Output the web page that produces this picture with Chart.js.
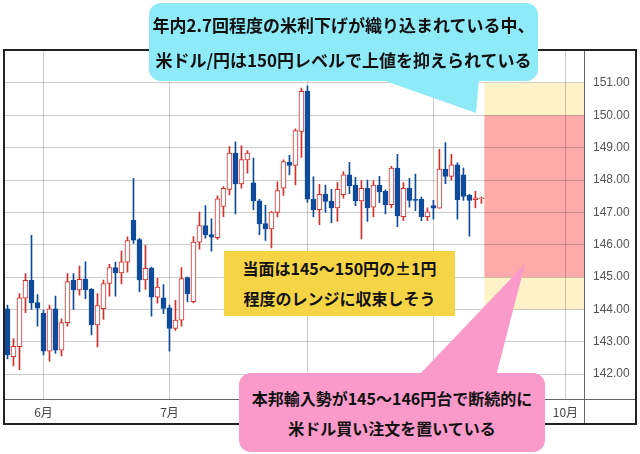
<!DOCTYPE html>
<html>
<head>
<meta charset="utf-8">
<script src="https://cdn.jsdelivr.net/npm/chart.js@4.4.1/dist/chart.umd.min.js"></script>
<style>
    body { margin: 0; background: #fff; }
    #wrap { position: relative; width: 640px; height: 454px; overflow: hidden; }
    #myChart { position: absolute; left: 0; top: 0; }
    .note {
        position: absolute;
        box-sizing: border-box;
        font-family: "Noto Sans CJK JP", sans-serif;
        font-weight: bold;
        color: #111;
        text-align: center;
        white-space: nowrap;
    }
    .tail { position: absolute; left: 0; top: 0; width: 640px; height: 454px; }
</style>
</head>
<body>
<div id="wrap">
    <canvas id="myChart" width="640" height="454"></canvas>

    <!-- callouts laid over the chart -->
    <div class="tail" style="background:#8FEAF8; clip-path: polygon(377px 78px, 479px 78px, 476px 113px);"></div>
    <div class="note" style="left:149px; top:3px; width:389px; height:78px; padding-top:4px; background:#8FEAF8; border-radius:12px; font-size:17px; line-height:35px;">年内2.7回程度の米利下げが織り込まれている中、<br>米ドル/円は150円レベルで上値を抑えられている</div>

    <div class="note" style="left:224px; top:251px; width:231px; height:65px; padding-top:2px; background:#F5D446; font-size:16px; line-height:30px;">当面は145～150円の±1円<br>程度のレンジに収束しそう</div>

    <div class="tail" style="background:#F99ACA; clip-path: polygon(418px 376px, 525px 264px, 496px 376px);"></div>
    <div class="note" style="left:239px; top:373px; width:306px; height:79px; padding-top:10px; background:#F99ACA; border-radius:12px; font-size:16px; line-height:30px;">本邦輸入勢が145～146円台で断続的に<br>米ドル買い注文を置いている</div>
</div>

<script>
// Trading days shown on the axis (last ones are empty room on the right)
var dates = [
    "5/23", "5/26", "5/27", "5/28", "5/29", "5/30",
    "6/2", "6/3", "6/4", "6/5", "6/6", "6/9", "6/10", "6/11", "6/12", "6/13",
    "6/16", "6/17", "6/18", "6/19", "6/20", "6/23", "6/24", "6/25", "6/26", "6/27", "6/30",
    "7/1", "7/2", "7/3", "7/4", "7/7", "7/8", "7/9", "7/10", "7/11", "7/14", "7/15",
    "7/16", "7/17", "7/18", "7/21", "7/22", "7/23", "7/24", "7/25", "7/28", "7/29", "7/30", "7/31",
    "8/1", "8/4", "8/5", "8/6", "8/7", "8/8", "8/11", "8/12", "8/13", "8/14", "8/15",
    "8/18", "8/19", "8/20", "8/21", "8/22", "8/25", "8/26", "8/27", "8/28", "8/29",
    "9/1", "9/2", "9/3", "9/4", "9/5", "9/8", "9/9", "9/10", "9/11", "9/12", "9/15",
    "9/16", "9/17", "9/18", "9/19", "9/22", "9/23", "9/24", "9/25", "9/26", "9/29", "9/30",
    "10/1", "10/2", "10/3", "10/6"
];

// USD/JPY daily candles
var openPrices = [
    144.02, 142.54, 142.85, 144.35, 144.90, 144.21, 143.88, 142.71, 144.02, 142.74,
    143.59, 144.90, 144.60, 144.93, 144.62, 143.52, 144.02, 144.80, 145.29, 145.13,
    145.46, 146.75, 146.16, 144.91, 145.28, 144.38, 144.36, 144.05, 143.41, 143.67,
    144.98, 144.24, 146.08, 146.59, 146.31, 146.22, 147.18, 147.71, 148.83, 147.88,
    148.62, 147.91, 147.36, 146.65, 146.49, 147.00, 147.75, 148.55, 148.45, 149.50,
    150.75, 147.40, 147.08, 147.56, 147.34, 147.14, 147.55, 148.16, 147.84, 147.35,
    147.74, 147.16, 147.84, 147.65, 147.24, 148.37, 146.87, 147.74, 147.40, 147.40,
    146.87, 147.21, 147.13, 148.34, 148.11, 148.47, 148.16, 147.53, 147.39, 147.42
];
var highPrices = [
    144.13, 143.10, 144.49, 145.11, 146.29, 144.46, 143.97, 144.13, 144.41, 143.71,
    145.11, 145.11, 145.34, 145.47, 144.64, 144.49, 144.91, 145.39, 145.46, 145.80,
    146.24, 148.05, 146.20, 145.98, 145.31, 144.96, 144.77, 144.13, 144.28, 145.29,
    145.01, 146.25, 147.01, 147.21, 146.80, 147.51, 147.80, 149.03, 149.18, 149.06,
    148.91, 148.68, 147.40, 147.22, 147.03, 147.94, 148.62, 148.76, 149.58, 150.84,
    150.91, 148.10, 147.87, 147.84, 147.71, 147.92, 148.26, 148.55, 148.08, 147.98,
    148.00, 147.98, 148.11, 147.70, 148.42, 148.79, 147.92, 148.05, 148.18, 147.47,
    147.14, 147.37, 148.95, 149.16, 148.79, 148.53, 148.37, 147.56, 147.65, 147.47
];
var lowPrices = [
    142.47, 142.25, 142.14, 143.90, 144.00, 143.48, 142.59, 142.40, 142.64, 142.56,
    143.48, 144.00, 144.44, 144.33, 143.21, 142.84, 143.69, 144.41, 144.41, 144.79,
    145.15, 146.04, 144.54, 144.62, 143.79, 144.19, 143.87, 142.71, 143.35, 143.48,
    144.23, 144.20, 145.86, 146.20, 145.80, 146.16, 146.87, 147.54, 146.95, 147.75,
    148.21, 147.08, 146.31, 146.13, 145.90, 146.86, 147.52, 148.16, 147.85, 148.70,
    147.31, 146.87, 146.62, 147.00, 146.68, 146.72, 147.44, 147.58, 147.21, 146.18,
    146.72, 146.86, 147.30, 146.95, 147.14, 146.56, 146.74, 147.16, 147.05, 146.74,
    146.74, 146.79, 147.13, 147.89, 148.00, 146.79, 147.37, 146.26, 147.14, 147.28
];
var closePrices = [
    142.59, 142.86, 144.36, 144.90, 144.20, 144.04, 142.71, 144.02, 142.74, 143.59,
    144.86, 144.60, 144.93, 144.60, 143.52, 144.12, 144.80, 145.29, 145.13, 145.47,
    146.13, 146.14, 144.91, 145.27, 144.38, 144.69, 144.03, 143.41, 143.67, 144.95,
    144.49, 146.08, 146.59, 146.30, 146.23, 147.42, 147.74, 148.83, 147.88, 148.63,
    148.83, 147.36, 146.64, 146.49, 147.01, 147.67, 148.57, 148.45, 149.53, 150.74,
    147.41, 147.08, 147.56, 147.34, 147.14, 147.71, 148.16, 147.82, 147.35, 147.74,
    147.14, 147.84, 147.63, 147.24, 148.37, 146.89, 147.74, 147.37, 147.37, 146.87,
    147.02, 147.13, 148.34, 148.11, 148.47, 147.39, 147.49, 147.37, 147.45, 147.45
];

var yTicks = [142, 143, 144, 145, 146, 147, 148, 149, 150, 151];
var rangeOuter = [144, 151];   // light band: 145-150 +/- 1
var rangeInner = [145, 150];   // main band

var upColor = "#D42F2B";
var downColor = "#0E4B9B";

// Month ticks: first trading day of each month
var monthTicks = {};
for (var i = 1; i < dates.length; i++) {
    var m = dates[i].split("/")[0];
    if (m != dates[i - 1].split("/")[0])
        monthTicks[i] = m + "月";
}

var bodyData = [], wickData = [];
var bodyFill = [], bodyLine = [], wickColor = [];
for (var i = 0; i < openPrices.length; i++) {
    var up = closePrices[i] >= openPrices[i];
    bodyData.push({ x: i, y: [openPrices[i], closePrices[i]] });
    wickData.push({ x: i, y: [lowPrices[i], highPrices[i]] });
    bodyFill.push(up ? "#ffffff" : downColor);
    bodyLine.push(up ? upColor : downColor);
    wickColor.push(up ? upColor : downColor);
}

// Range bands go behind the grid, right of the last candle
var bandsPlugin = {
    id: "bands",
    beforeDraw: function(chart) {
        var ctx = chart.ctx, x = chart.scales.x, y = chart.scales.y;
        var left = x.getPixelForValue(openPrices.length - 0.5);
        var right = chart.chartArea.right;
        ctx.save();
        ctx.fillStyle = "#FFF2C8";
        var t = y.getPixelForValue(rangeOuter[1]), b = y.getPixelForValue(rangeOuter[0]);
        ctx.fillRect(left, t, right - left, b - t);
        ctx.fillStyle = "#FFAAAA";
        t = y.getPixelForValue(rangeInner[1]);
        b = y.getPixelForValue(rangeInner[0]);
        ctx.fillRect(left, t, right - left, b - t);
        ctx.restore();
    }
};

// Outer box and the axis separators
var framePlugin = {
    id: "frame",
    afterDraw: function(chart) {
        var ctx = chart.ctx, a = chart.chartArea;
        ctx.save();
        ctx.strokeStyle = "#666";
        ctx.lineWidth = 1;
        ctx.beginPath();
        ctx.moveTo(3, Math.round(a.bottom) + 0.5);
        ctx.lineTo(637, Math.round(a.bottom) + 0.5);
        ctx.moveTo(Math.round(a.right) + 0.5, 49);
        ctx.lineTo(Math.round(a.right) + 0.5, 424);
        ctx.stroke();
        ctx.strokeStyle = "#222";
        ctx.lineWidth = 2;
        ctx.strokeRect(4, 50, 632, 374);
        ctx.restore();
    }
};

var ctx = document.getElementById("myChart").getContext("2d");
new Chart(ctx, {
    type: "bar",
    data: {
        datasets: [{
            label: "body",
            data: bodyData,
            backgroundColor: bodyFill,
            borderColor: bodyLine,
            borderWidth: 1,
            borderSkipped: false,
            barThickness: 5,
            minBarLength: 1,
            grouped: false,
            order: 0
        }, {
            label: "wick",
            data: wickData,
            backgroundColor: wickColor,
            borderWidth: 0,
            barThickness: 1,
            grouped: false,
            order: 1
        }]
    },
    options: {
        responsive: false,
        devicePixelRatio: 1,
        animation: false,
        layout: { padding: { left: 4.5, top: 49, right: 3, bottom: 30 } },
        plugins: {
            legend: { display: false },
            tooltip: { enabled: false }
        },
        scales: {
            x: {
                type: "linear",
                min: -0.5,
                max: 96.1,
                offset: false,
                border: { display: false },
                grid: { color: "rgba(0,0,0,0.2)", offset: false, drawTicks: false },
                afterBuildTicks: function(scale) {
                    scale.ticks = Object.keys(monthTicks).map(function(k) { return { value: Number(k) }; });
                },
                afterFit: function(scale) { scale.height = 25; },
                ticks: {
                    autoSkip: false,
                    maxRotation: 0,
                    padding: 6,
                    color: "#444",
                    font: { family: "'Noto Sans CJK JP', sans-serif", size: 12 },
                    callback: function(value) { return monthTicks[value]; }
                }
            },
            y: {
                position: "right",
                min: 141.23,
                max: 152.05,
                border: { display: false },
                grid: { color: "rgba(0,0,0,0.2)", drawTicks: false },
                afterBuildTicks: function(scale) {
                    scale.ticks = yTicks.map(function(v) { return { value: v }; });
                },
                afterFit: function(scale) { scale.width = 53; },
                ticks: {
                    padding: 9,
                    color: "#555",
                    font: { family: "'Liberation Sans', sans-serif", size: 12 },
                    callback: function(value) { return value.toFixed(2); }
                }
            }
        }
    },
    plugins: [bandsPlugin, framePlugin]
});
</script>
</body>
</html>
